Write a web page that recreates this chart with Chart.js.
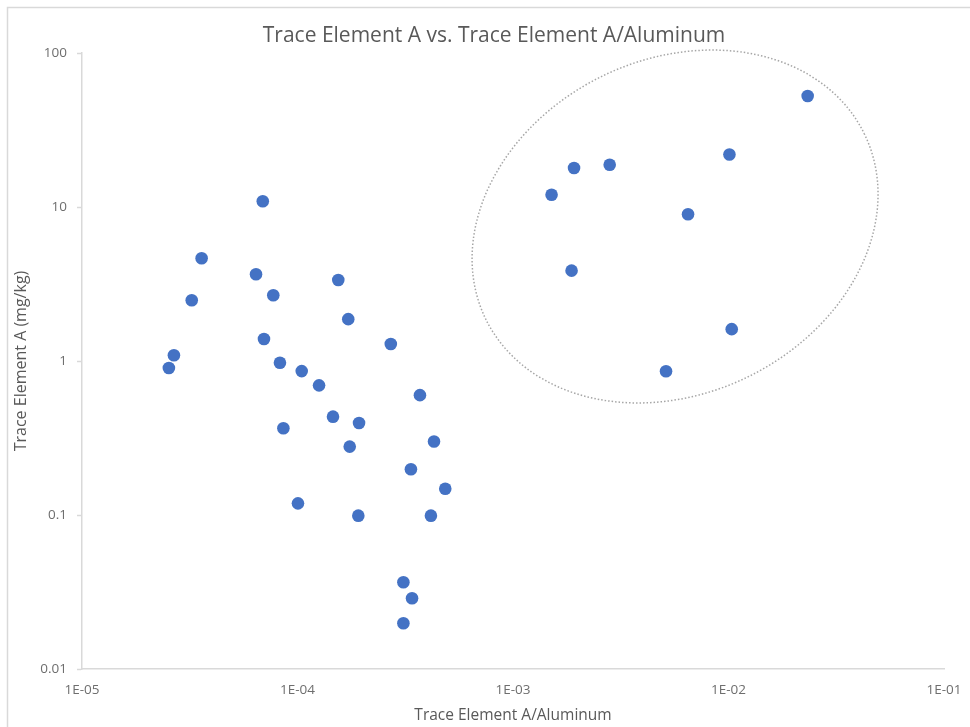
<!DOCTYPE html>
<html>
<head>
<meta charset="utf-8">
<script src="https://cdn.jsdelivr.net/npm/chart.js@4.4.1/dist/chart.umd.min.js"></script>
<style>
  html, body { margin: 0; padding: 0; background: #ffffff; }
  #wrap { width: 970px; height: 727px; position: relative; }
</style>
</head>
<body>
<div id="wrap"><canvas id="c" width="970" height="727"></canvas></div>
<script>
// ---- Data ----
const chartTitle = "Trace Element A vs. Trace Element A/Aluminum";
const xAxisTitle = "Trace Element A/Aluminum";
const yAxisTitle = "Trace Element A (mg/kg)";

// Trace Element A/Aluminum ratio
const ratioValues = [
  2.53e-5, 2.67e-5, 3.23e-5, 3.59e-5, 6.90e-5, 6.42e-5, 7.72e-5, 6.99e-5,
  8.29e-5, 8.60e-5, 1.046e-4, 1.259e-4, 1.005e-4, 1.546e-4, 1.72e-4, 1.461e-4,
  1.93e-4, 1.747e-4, 1.915e-4, 2.71e-4, 3.70e-4, 4.30e-4, 3.36e-4, 4.85e-4,
  4.16e-4, 3.10e-4, 3.40e-4, 3.10e-4,
  2.33e-2, 1.01e-2, 2.81e-3, 1.92e-3, 1.51e-3, 6.49e-3, 1.87e-3, 1.035e-2, 5.13e-3
];
// Trace Element A concentration (mg/kg)
const elementValues = [
  0.90, 1.09, 2.48, 4.65, 10.9, 3.66, 2.67, 1.39,
  0.975, 0.366, 0.86, 0.695, 0.119, 3.36, 1.87, 0.435,
  0.396, 0.278, 0.099, 1.29, 0.60, 0.30, 0.198, 0.148,
  0.099, 0.0366, 0.0288, 0.0198,
  52.6, 21.9, 18.8, 17.9, 12.0, 8.97, 3.86, 1.61, 0.857
];

const xTickValues = [1e-5, 1e-4, 1e-3, 1e-2, 1e-1];
const xTickLabels = ["1E-05", "1E-04", "1E-03", "1E-02", "1E-01"];
const yTickValues = [0.01, 0.1, 1, 10, 100];
const yTickLabels = ["0.01", "0.1", "1", "10", "100"];

// Dotted ellipse annotation around the high-ratio group (centre in data units)
const ellipseCenter = { x: 5.65e-3, y: 7.47 };
const ellipseSize = { a: 0.978, b: 1.085, rotationDeg: -26.2 }; // a,b in decades of x / y

// ---- Build chart ----
const points = ratioValues.map((x, i) => ({ x: x, y: elementValues[i] }));

const FONT = "'Open Sans', Lato, sans-serif";
const textGray = "#595959";
const tickGray = "#6e6e6e";
const axisGray = "#D9D9D9";

const framePlugin = {
  id: 'frame',
  beforeDraw(chart) {
    const ctx = chart.ctx;
    ctx.save();
    ctx.fillStyle = '#ffffff';
    ctx.fillRect(0, 0, chart.width, chart.height);
    ctx.strokeStyle = '#D9D9D9';
    ctx.lineWidth = 1.5;
    ctx.strokeRect(7.5, 7.5, chart.width + 20, chart.height + 20);
    ctx.restore();
  },
  afterDraw(chart) {
    // Chart title, centred on the chart frame (which starts at x = 7 and runs past the right edge)
    const ctx = chart.ctx;
    ctx.save();
    ctx.fillStyle = textGray;
    ctx.font = "21px " + FONT;
    ctx.textAlign = 'center';
    ctx.textBaseline = 'middle';
    ctx.fillText(chartTitle, 494, 36);
    ctx.restore();
  }
};

const ellipsePlugin = {
  id: 'ellipseNote',
  afterDatasetsDraw(chart) {
    const xs = chart.scales.x, ys = chart.scales.y;
    const cx = xs.getPixelForValue(ellipseCenter.x);
    const cy = ys.getPixelForValue(ellipseCenter.y);
    const decX = Math.abs(xs.getPixelForValue(1e-4) - xs.getPixelForValue(1e-5));
    const decY = Math.abs(ys.getPixelForValue(1) - ys.getPixelForValue(10));
    const ctx = chart.ctx;
    ctx.save();
    ctx.beginPath();
    ctx.ellipse(cx, cy, ellipseSize.a * decX, ellipseSize.b * decY,
                ellipseSize.rotationDeg * Math.PI / 180, 0, Math.PI * 2);
    ctx.strokeStyle = '#A6A6A6';
    ctx.lineWidth = 1.5;
    ctx.setLineDash([1.5, 2]);
    ctx.stroke();
    ctx.restore();
  }
};

new Chart(document.getElementById('c'), {
  type: 'scatter',
  data: {
    datasets: [{
      label: 'Trace Element A',
      data: points,
      backgroundColor: '#4472C4',
      borderColor: '#4472C4',
      borderWidth: 0,
      pointRadius: 6.3,
      pointHoverRadius: 6.3
    }]
  },
  options: {
    responsive: false,
    animation: false,
    layout: { padding: { left: 0, right: 26, top: 53, bottom: 0 } },
    plugins: {
      legend: { display: false },
      tooltip: { enabled: false },
      title: { display: false }
    },
    scales: {
      x: {
        type: 'logarithmic',
        min: 1e-5,
        max: 1e-1,
        afterBuildTicks: (s) => { s.ticks = xTickValues.map(v => ({ value: v })); },
        afterFit: (s) => { s.height = 58; },
        ticks: {
          autoSkip: false,
          maxRotation: 0,
          color: tickGray,
          font: { family: FONT, size: 13.5 },
          padding: 0,
          callback: (v) => { const i = xTickValues.findIndex(t => Math.abs(Math.log10(t) - Math.log10(v)) < 1e-6); return i >= 0 ? xTickLabels[i] : ''; }
        },
        grid: { display: true, drawOnChartArea: false, drawTicks: true, tickLength: 13, color: 'rgba(0,0,0,0)' },
        border: { display: true, color: axisGray, width: 1.5 },
        title: {
          display: true,
          text: xAxisTitle,
          color: textGray,
          font: { family: FONT, size: 15.5 },
          padding: { top: 0, bottom: 2 }
        }
      },
      y: {
        type: 'logarithmic',
        min: 0.01,
        max: 100,
        afterBuildTicks: (s) => { s.ticks = yTickValues.map(v => ({ value: v })); },
        afterFit: (s) => { s.width = 82; },
        ticks: {
          autoSkip: false,
          color: tickGray,
          font: { family: FONT, size: 13.5 },
          padding: 10,
          callback: (v) => { const i = yTickValues.findIndex(t => Math.abs(Math.log10(t) - Math.log10(v)) < 1e-6); return i >= 0 ? yTickLabels[i] : ''; }
        },
        grid: { display: true, drawOnChartArea: false, drawTicks: true, tickLength: 5, color: axisGray, tickWidth: 1.5 },
        border: { display: true, color: axisGray, width: 1.5 },
        title: {
          display: true,
          text: yAxisTitle,
          color: textGray,
          font: { family: FONT, size: 16 },
          padding: { top: 12, bottom: 0 }
        }
      }
    }
  },
  plugins: [framePlugin, ellipsePlugin]
});
</script>
</body>
</html>
